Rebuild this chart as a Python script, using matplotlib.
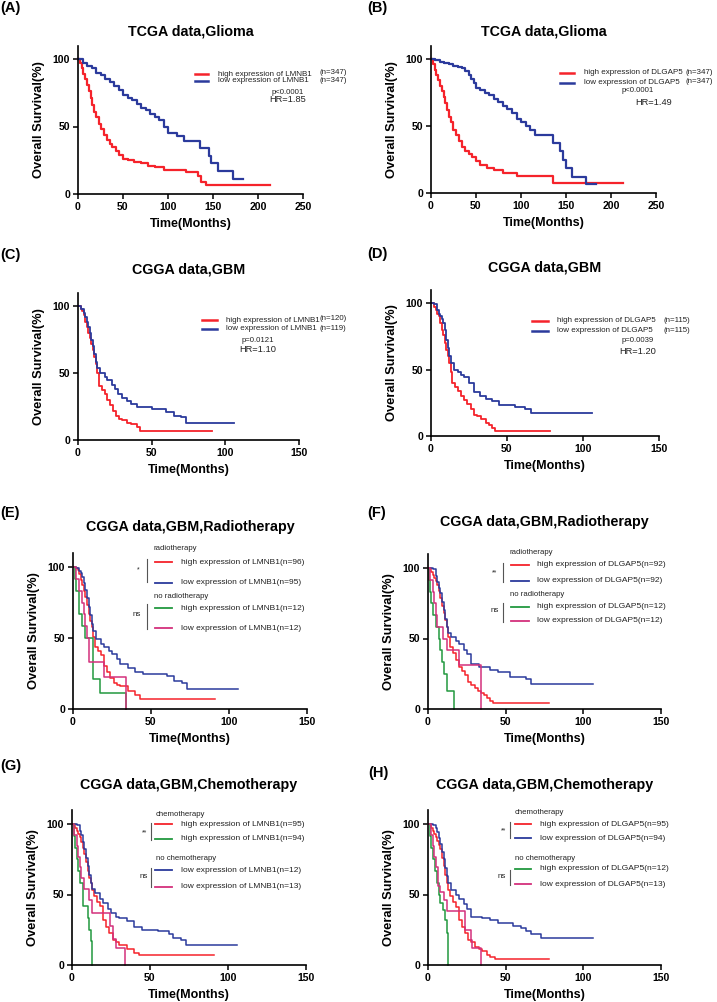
import matplotlib
matplotlib.use("Agg")
import matplotlib.pyplot as plt
from matplotlib.lines import Line2D

# Kaplan-Meier curves, values (time in months, survival in %)
# (A) TCGA glioma, LMNB1
A_high_t = [0, 2, 4, 6, 8, 10, 12, 14, 16, 18, 20, 23, 26, 29, 32, 35, 38, 42, 46, 50, 55, 62, 70, 78, 85, 95, 120, 133, 137, 142, 213]
A_high_s = [100, 97, 93, 89, 85, 81, 76, 71, 66, 61, 57, 52, 48, 44, 40, 37, 35, 32, 29, 26, 25, 24, 23, 21, 20, 18, 16, 13, 9, 7, 7]
A_low_t = [0, 5, 10, 15, 20, 25, 30, 35, 40, 45, 50, 55, 60, 65, 70, 75, 80, 85, 90, 95, 100, 110, 118, 135, 145, 148, 155, 172, 183]
A_low_s = [100, 97, 95, 93, 90, 88, 85, 83, 80, 77, 73, 71, 70, 67, 64, 62, 59, 57, 55, 50, 45, 43, 39, 34, 28, 23, 17, 11, 11]

# (B) TCGA glioma, DLGAP5
B_high_t = [0, 2, 4, 6, 8, 10, 12, 14, 16, 18, 20, 22, 25, 28, 31, 35, 38, 42, 46, 50, 55, 62, 70, 80, 95, 135, 213]
B_high_s = [100, 96, 92, 88, 84, 80, 76, 72, 67, 62, 57, 53, 47, 43, 39, 34, 31, 29, 27, 24, 21, 19, 17, 15, 13, 7.5, 7.5]
B_low_t = [0, 5, 10, 15, 20, 25, 30, 35, 38, 42, 45, 48, 50, 55, 60, 65, 70, 75, 80, 85, 90, 95, 100, 105, 110, 115, 135, 143, 147, 150, 157, 172, 183]
B_low_s = [100, 99, 98, 97, 96, 95, 94, 93, 91, 88, 85, 82, 78, 77, 75, 73, 70, 68, 65, 63, 60, 55, 53, 50, 47, 43, 37, 31, 25, 19, 12, 6.5, 6.5]

# (C) CGGA GBM, LMNB1
C_high_t = [0, 2, 3, 4, 5, 6, 7, 8, 9, 10, 11, 12, 13, 14, 16, 18, 20, 22, 24, 26, 28, 30, 33, 36, 40, 42, 91]
C_high_s = [100, 98, 96, 93, 88, 84, 80, 76, 72, 67, 62, 57, 50, 40, 37, 34, 30, 26, 22, 18, 16, 15, 13, 12, 10, 7, 7]
C_low_t = [0, 2, 4, 5, 6, 7, 8, 9, 10, 11, 12, 13, 15, 18, 20, 23, 25, 27, 30, 33, 36, 40, 50, 60, 65, 70, 73, 106]
C_low_s = [100, 98, 95, 92, 88, 84, 80, 75, 70, 64, 58, 54, 50, 47, 45, 41, 38, 34, 31, 29, 27, 25, 23, 21, 18, 17, 13, 13]

# (D) CGGA GBM, DLGAP5
D_high_t = [0, 2, 3, 4, 5, 6, 7, 8, 9, 10, 11, 12, 13, 14, 16, 18, 20, 22, 24, 26, 28, 30, 33, 36, 38, 40, 42, 78]
D_high_s = [100, 97, 95, 92, 90, 85, 80, 76, 70, 65, 60, 55, 48, 40, 37, 34, 30, 27, 24, 20, 16, 15, 13, 10, 8, 6, 4, 4]
D_low_t = [0, 2, 4, 5, 6, 7, 8, 9, 10, 11, 12, 13, 15, 18, 20, 22, 25, 28, 32, 36, 40, 45, 55, 62, 66, 106]
D_low_s = [100, 99, 95, 92, 90, 88, 85, 80, 72, 66, 60, 55, 50, 48, 46, 44, 40, 33, 30, 28, 26, 23, 22, 20, 17, 17]

# (E) CGGA GBM radiotherapy, LMNB1
E_high_t = [0, 2, 3, 4, 5, 6, 7, 8, 9, 10, 11, 12, 13, 14, 16, 18, 20, 22, 24, 26, 28, 30, 35, 40, 43, 91]
E_high_s = [100, 99, 98, 95, 91, 87, 83, 79, 73, 67, 62, 58, 51, 44, 41, 38, 30, 26, 22, 18, 17, 16, 13, 10, 7, 7]
E_low_t = [0, 2, 4, 5, 6, 7, 8, 9, 10, 11, 12, 13, 15, 18, 20, 23, 25, 28, 30, 35, 40, 45, 60, 65, 70, 73, 106]
E_low_s = [100, 99, 97, 96, 93, 89, 84, 78, 72, 66, 60, 55, 49, 46, 44, 41, 39, 35, 32, 29, 26, 25, 23, 20, 18, 14, 14]
E_nohigh_t = [0, 1, 2, 4, 6, 8, 12.5, 17, 34]
E_nohigh_s = [100, 91.7, 83.3, 66.7, 58.3, 50, 21, 11, 0]
E_nolow_t = [0, 2, 4, 6, 7, 8, 9, 10, 20, 34]
E_nolow_s = [100, 91.7, 83.3, 75, 66.7, 58.3, 50, 33.3, 22.2, 0]

# (F) CGGA GBM radiotherapy, DLGAP5
F_high_t = [0, 2, 3, 4, 5, 6, 7, 8, 9, 10, 11, 12, 13, 14, 16, 18, 20, 22, 24, 26, 28, 30, 32, 34, 36, 38, 40, 42, 78]
F_high_s = [100, 97, 95, 93, 91, 88, 84, 79, 73, 68, 63, 58, 51, 44, 40, 35, 30, 27, 24, 19, 17, 15, 13, 11, 10, 8, 6, 4, 4]
F_low_t = [0, 3, 5, 6, 7, 8, 9, 10, 11, 12, 13, 15, 18, 20, 23, 25, 28, 33, 40, 45, 53, 63, 66, 106]
F_low_s = [100, 99, 94, 90, 86, 82, 76, 70, 64, 58, 54, 51, 48, 46, 42, 39, 32, 30, 28, 26, 23, 21, 18, 18]
F_nohigh_t = [0, 0.5, 1, 2, 3, 5, 7, 8, 9, 10, 12, 17]
F_nohigh_s = [100, 91.7, 83.3, 75, 66.7, 58.3, 50, 41.7, 33.3, 25, 12.5, 0]
F_nolow_t = [0, 1, 3, 4, 5, 6, 9.5, 12, 20, 34]
F_nolow_s = [100, 91.7, 83.3, 75, 66.7, 58.3, 50, 41.7, 31.3, 0]

# (G) CGGA GBM chemotherapy, LMNB1
G_high_t = [0, 2, 3, 4, 5, 6, 7, 8, 9, 10, 11, 12, 13, 14, 16, 18, 20, 22, 24, 26, 28, 30, 35, 40, 43, 91]
G_high_s = [100, 97, 95, 93, 91, 87, 83, 79, 73, 67, 62, 58, 53, 49, 45, 42, 32, 27, 23, 18, 16, 14, 11, 8.5, 7, 7]
G_low_t = [0, 3, 5, 6, 7, 8, 9, 10, 11, 12, 13, 15, 18, 20, 23, 25, 28, 30, 35, 40, 45, 55, 62, 65, 70, 73, 106]
G_low_s = [100, 99, 95, 92, 87, 82, 76, 70, 64, 58, 54, 51, 47, 44, 40, 37, 34, 33, 31, 27, 25, 24, 22, 19, 18, 14, 14]
G_nohigh_t = [0, 1, 2, 3, 4, 5, 7, 10, 11, 12, 12.8]
G_nohigh_s = [100, 91.7, 83.3, 75, 66.7, 58.3, 41.7, 33.3, 25, 16.7, 0]
G_nolow_t = [0, 1.5, 3, 4, 5, 6, 8, 11, 13, 24.5, 26, 28, 34]
G_nolow_s = [100, 92.3, 84.6, 76.9, 69.2, 61.5, 53.8, 46.2, 36.9, 27.7, 18.5, 12.3, 0]

# (H) CGGA GBM chemotherapy, DLGAP5
H_high_t = [0, 2, 3, 4, 5, 6, 7, 8, 9, 10, 11, 12, 13, 14, 16, 18, 20, 22, 24, 26, 28, 30, 33, 35, 38, 40, 43, 78]
H_high_s = [100, 97, 95, 93, 91, 88, 85, 82, 76, 70, 64, 58, 53, 49, 45, 41, 32, 27, 23, 18, 16, 13, 11, 10, 7, 6, 4, 4]
H_low_t = [0, 3, 5, 6, 7, 8, 9, 10, 11, 12, 13, 15, 18, 20, 23, 25, 28, 35, 40, 45, 55, 60, 63, 66, 73, 106]
H_low_s = [100, 99, 97, 94, 90, 86, 80, 75, 69, 63, 58, 53, 50, 47, 43, 40, 34, 33, 32, 30, 28, 26, 24, 22, 19, 19]
H_nohigh_t = [0, 1, 2, 3, 4.3, 5.8, 6.8, 8, 9.6, 11, 12, 12.8]
H_nohigh_s = [100, 91.7, 83.3, 75, 66.7, 58.3, 50, 44, 39, 32, 23, 0]
H_nolow_t = [0, 1.7, 3, 4, 5, 6.4, 8, 10, 12, 24, 27.4, 28.5, 34.3]
H_nolow_s = [100, 92.3, 84.6, 76.9, 69.2, 56, 52, 46, 38, 25, 18, 12, 0]

RED = "#f5232b"
BLUE = "#2b3a9c"
GREEN = "#22993f"
MAG = "#d3307c"
TXT = "#222222"

plt.rcParams["font.family"] = ["Liberation Sans", "DejaVu Sans"]

W, H = 717, 1002
fig = plt.figure(figsize=(W / 100, H / 100), dpi=100)


def ftext(x, y, s, **kw):
    kw.setdefault("va", "center")
    kw.setdefault("color", TXT)
    fig.text(x / W, 1 - y / H, s, **kw)


def fline(x0, x1, y0, y1, color, lw):
    fig.add_artist(Line2D([x0 / W, x1 / W], [1 - y0 / H, 1 - y1 / H], color=color, lw=lw))


def km_axes(left, right, y0, y100, xmax, tag, tag_x, tag_y, title, title_y):
    top = y0 - 1.1 * (y0 - y100)
    ax = fig.add_axes([left / W, 1 - y0 / H, (right - left) / W, (y0 - top) / H])
    ax.set_xlim(0, xmax)
    ax.set_ylim(0, 110)
    for s in ["top", "right"]:
        ax.spines[s].set_visible(False)
    for s in ["left", "bottom"]:
        ax.spines[s].set_linewidth(1.2)
    ax.set_yticks([0, 50, 100])
    ax.set_yticklabels(["0", "50", "100"], fontweight="bold", fontsize=7.6)
    xt = list(range(0, xmax + 1, 50))
    ax.set_xticks(xt)
    ax.set_xticklabels([str(v) for v in xt], fontweight="bold", fontsize=7.6)
    ax.tick_params(direction="out", length=3.5, width=1.1, pad=2)
    ax.set_ylabel("Overall Survival(%)", fontweight="bold", fontsize=9.3)
    ax.yaxis.set_label_coords(-33 / (right - left), 0.5)
    cx = (left + right) / 2
    ftext(cx, y0 + 30, "Time(Months)", ha="center", fontweight="bold", fontsize=9, color="black")
    ftext(cx, title_y, title, ha="center", fontweight="bold", fontsize=10.3, color="black")
    ftext(tag_x, tag_y, tag, ha="left", fontweight="bold", fontsize=10.5, color="black")
    return ax


def km(ax, t, s, color, lw):
    ax.step(t, s, where="post", color=color, lw=lw, clip_on=False)


def two_legend(lx0, lx1, tx, nx, y1, y2, gene, n1, n2, p, px_, py, hr, hx, hy):
    fline(lx0, lx1, y1, y1, RED, 1.8)
    fline(lx0, lx1, y2, y2, BLUE, 1.8)
    ftext(tx, y1, "high expression of " + gene, fontsize=5.8)
    ftext(tx, y2, "low expression of " + gene, fontsize=5.8)
    ftext(nx, y1 - 1, n1, fontsize=5.7)
    ftext(nx, y2 - 1, n2, fontsize=5.7)
    ftext(px_, py, p, ha="center", fontsize=5.6)
    ftext(hx, hy, hr, ha="center", fontsize=6.7)


def four_legend(headers, hx, hy1, hy2, lx0, lx1, tx, ys, colors, labels, bx, b1, b2, s1, s1x, s1y, nsx, nsy):
    ftext(hx, hy1, headers[0], fontsize=5.6)
    ftext(hx, hy2, headers[1], fontsize=5.6)
    for y, c, lab in zip(ys, colors, labels):
        fline(lx0, lx1, y, y, c, 1.3)
        ftext(tx, y, lab, fontsize=6)
    fline(bx, bx, b1[0], b1[1], "#555555", 0.8)
    fline(bx, bx, b2[0], b2[1], "#555555", 0.8)
    ftext(s1x, s1y, s1, ha="center", fontsize=5)
    ftext(nsx, nsy, "ns", ha="center", fontsize=5.8)


# (A)
ax = km_axes(78, 303, 194, 59, 250, "(A)", 0, 8, "TCGA data,Glioma", 32)
km(ax, A_high_t, A_high_s, RED, 1.6)
km(ax, A_low_t, A_low_s, BLUE, 1.6)
two_legend(195, 208, 218, 319, 74, 81, "LMNB1", "(n=347)", "(n=347)",
           "p<0.0001", 288, 93, "HR=1.85", 288, 100)

# (B)
ax = km_axes(431, 656, 193, 59, 250, "(B)", 367, 8, "TCGA data,Glioma", 31)
km(ax, B_high_t, B_high_s, RED, 1.6)
km(ax, B_low_t, B_low_s, BLUE, 1.6)
two_legend(560, 574, 584, 686, 73, 83, "DLGAP5", "(n=347)", "(n=347)",
           "p<0.0001", 638, 90, "HR=1.49", 654, 103)

# (C)
ax = km_axes(78, 299, 440, 306, 150, "(C)", 0, 255, "CGGA data,GBM", 269)
km(ax, C_high_t, C_high_s, RED, 1.3)
km(ax, C_low_t, C_low_s, BLUE, 1.3)
two_legend(202, 217, 226, 320, 320, 329, "LMNB1", "(n=120)", "(n=119)",
           "p=0.0121", 258, 340, "HR=1.10", 258, 349)

# (D)
ax = km_axes(431, 659, 436, 303, 150, "(D)", 367, 254, "CGGA data,GBM", 267)
km(ax, D_high_t, D_high_s, RED, 1.3)
km(ax, D_low_t, D_low_s, BLUE, 1.3)
two_legend(532, 548, 557, 663, 321, 331, "DLGAP5", "(n=115)", "(n=115)",
           "p=0.0039", 638, 340, "HR=1.20", 638, 352)

# (E)
ax = km_axes(73, 307, 709, 567, 150, "(E)", 0, 513, "CGGA data,GBM,Radiotherapy", 527)
km(ax, E_high_t, E_high_s, RED, 1.1)
km(ax, E_low_t, E_low_s, BLUE, 1.1)
km(ax, E_nohigh_t, E_nohigh_s, GREEN, 1.1)
km(ax, E_nolow_t, E_nolow_s, MAG, 1.1)
four_legend(["radiotherapy", "no radiotherapy"], 154, 549, 596, 155, 172, 181,
            [562, 583, 608, 628], [RED, BLUE, GREEN, MAG],
            ["high expression of LMNB1(n=96)", "low expression of LMNB1(n=95)",
             "high expression of LMNB1(n=12)", "low expression of LMNB1(n=12)"],
            147, (559, 582), (604, 629), "*", 138, 570, 137, 615)

# (F)
ax = km_axes(428, 661, 709, 568, 150, "(F)", 367, 513, "CGGA data,GBM,Radiotherapy", 522)
km(ax, F_high_t, F_high_s, RED, 1.1)
km(ax, F_low_t, F_low_s, BLUE, 1.1)
km(ax, F_nohigh_t, F_nohigh_s, GREEN, 1.1)
km(ax, F_nolow_t, F_nolow_s, MAG, 1.1)
four_legend(["radiotherapy", "no radiotherapy"], 510, 552, 594, 511, 529, 537,
            [565, 581, 607, 621], [RED, BLUE, GREEN, MAG],
            ["high expression of DLGAP5(n=92)", "low expression of DLGAP5(n=92)",
             "high expression of DLGAP5(n=12)", "low expression of DLGAP5(n=12)"],
            503, (563, 582), (603, 622), "**", 495, 573, 495, 611)

# (G)
ax = km_axes(72, 306, 965, 824, 150, "(G)", 0, 766, "CGGA data,GBM,Chemotherapy", 785)
km(ax, G_high_t, G_high_s, RED, 1.1)
km(ax, G_low_t, G_low_s, BLUE, 1.1)
km(ax, G_nohigh_t, G_nohigh_s, GREEN, 1.1)
km(ax, G_nolow_t, G_nolow_s, MAG, 1.1)
four_legend(["chemotherapy", "no chemotherapy"], 156, 814, 859, 155, 172, 181,
            [824, 839, 870, 887], [RED, GREEN, BLUE, MAG],
            ["high expression of LMNB1(n=95)", "high expression of LMNB1(n=94)",
             "low expression of LMNB1(n=12)", "low expression of LMNB1(n=13)"],
            151, (823, 840), (868, 887), "**", 145, 833, 144, 877)

# (H)
ax = km_axes(428, 661, 965, 824, 150, "(H)", 368, 773, "CGGA data,GBM,Chemotherapy", 785)
km(ax, H_high_t, H_high_s, RED, 1.1)
km(ax, H_low_t, H_low_s, BLUE, 1.1)
km(ax, H_nohigh_t, H_nohigh_s, GREEN, 1.1)
km(ax, H_nolow_t, H_nolow_s, MAG, 1.1)
four_legend(["chemotherapy", "no chemotherapy"], 515, 813, 859, 515, 531, 540,
            [824, 838, 869, 884], [RED, BLUE, GREEN, MAG],
            ["high expression of DLGAP5(n=95)", "low expression of DLGAP5(n=94)",
             "high expression of DLGAP5(n=12)", "low expression of DLGAP5(n=13)"],
            510, (822, 838), (870, 885), "**", 504, 831, 502, 877)

fig.savefig("out.png", dpi=100)
